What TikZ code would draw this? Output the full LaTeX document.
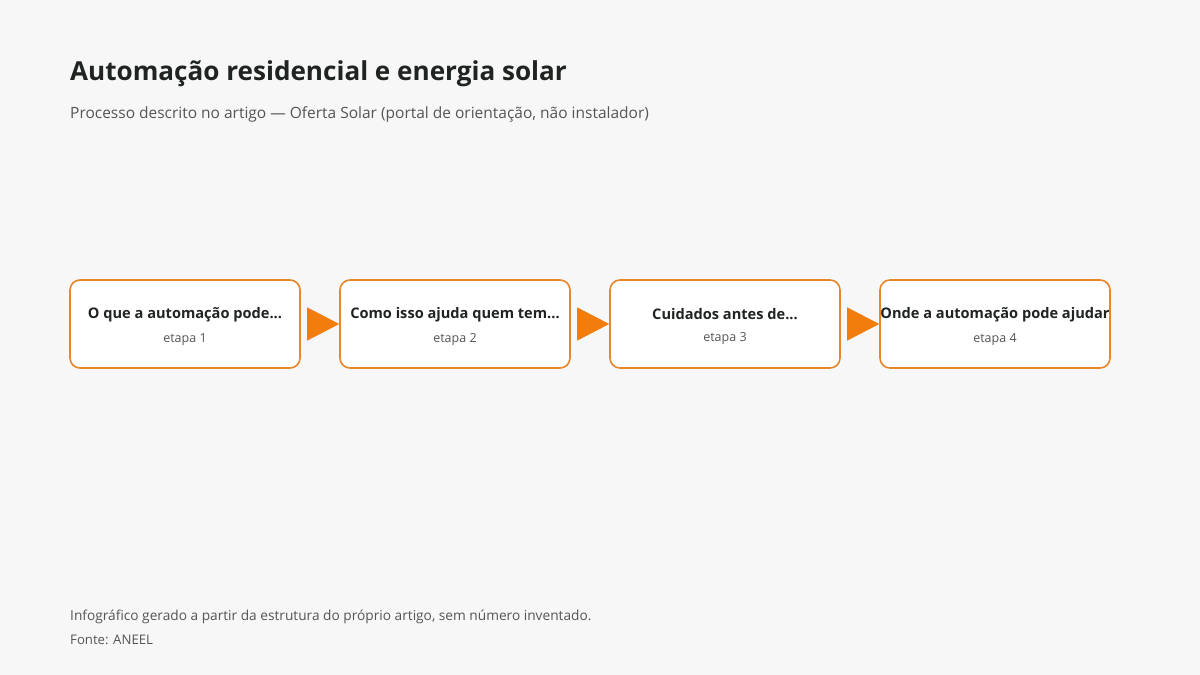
\documentclass[tikz,border=0pt]{standalone}
\usepackage{fontspec}
\setmainfont{Open Sans}
\usetikzlibrary{arrows.meta,positioning}
\definecolor{bgGray}{HTML}{F7F7F7}
\definecolor{ttlInk}{HTML}{1F2421}
\definecolor{subInk}{HTML}{555555}
\definecolor{boxOrange}{HTML}{E8862A}
\definecolor{tipOrange}{HTML}{F07D0C}
\newcommand{\etapa}[2]{\rule{0pt}{16pt}\fontsize{14.6}{17}\selectfont\bfseries #1\\[10pt]{\fontsize{12.5}{15}\selectfont\mdseries\color{subInk}#2}}

\begin{document}
\begin{tikzpicture}[x=1pt, y=-1pt,
  etp/.style={draw=boxOrange, line width=1.6pt, rounded corners=10pt, fill=white, minimum width=230pt, minimum height=88pt, align=center, inner sep=0pt, text=ttlInk},
  seta/.style={-{Triangle[length=32pt, width=33pt]}, tipOrange, line width=0.6pt, shorten <=8pt},
  sub/.style={anchor=base west, text=subInk, inner sep=0pt}]
\fill[bgGray] (0,0) rectangle (1200,675);
\useasboundingbox (0,0) rectangle (1200,675);
\node[anchor=base west, inner sep=0pt, text=ttlInk, font=\fontsize{26.1}{31}\selectfont\bfseries] (titulo) at (70,80) {Automação residencial e energia solar};
\node[sub, font=\fontsize{15.5}{19}\selectfont] (subtit) at (70,118) {Processo descrito no artigo — Oferta Solar (portal de orientação, não instalador)};
% etapas do processo
\node[etp] (b1) at (185,324) {\etapa{O que a automação pode...}{etapa 1}};
\node[etp] (b2) at (455,324) {\etapa{Como isso ajuda quem tem...}{etapa 2}};
\node[etp] (b3) at (725,324) {\etapa{Cuidados antes de...}{etapa 3}};
\node[etp] (b4) at (995,324) {\etapa{Onde a automação pode ajudar}{etapa 4}};
\foreach \a/\b in {b1/b2,b2/b3,b3/b4}{\draw[seta] (\a) -- (\b);}
% rodape
\node[sub, font=\fontsize{13.7}{16}\selectfont] (nota) at (70,620) {Infográfico gerado a partir da estrutura do próprio artigo, sem número inventado.};
\node[sub, font=\fontsize{13.2}{15}\selectfont] (fonte) at (70,644) {Fonte: ANEEL};
\end{tikzpicture}
\end{document}
